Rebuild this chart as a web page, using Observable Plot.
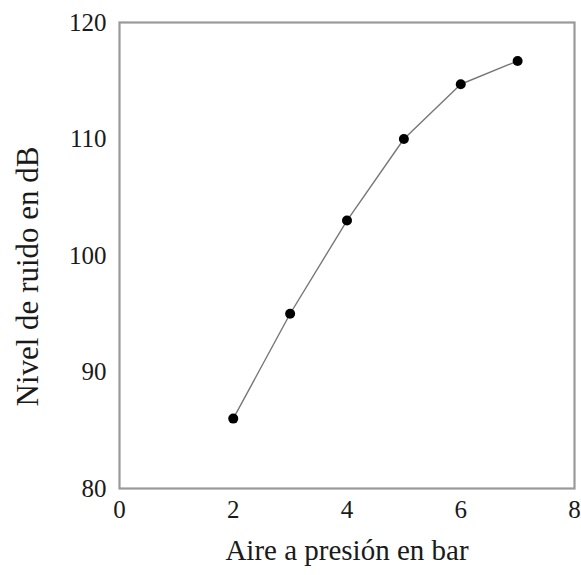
<!DOCTYPE html>
<html>
<head>
<meta charset="utf-8">
<script src="https://cdn.jsdelivr.net/npm/d3@7"></script>
<script src="https://cdn.jsdelivr.net/npm/@observablehq/plot@0.6"></script>
<style>
  html, body { margin: 0; padding: 0; background: #fff; }
</style>
</head>
<body>
<div id="chart"></div>
<script>
const pressure = [2, 3, 4, 5, 6, 7];
const noise = [86, 95, 103, 110, 114.7, 116.7];
const xTicks = [0, 2, 4, 6, 8];
const yTicks = [80, 90, 100, 110, 120];
const xLabel = "Aire a presión en bar";
const yLabel = "Nivel de ruido en dB";

const data = pressure.map((p, i) => ({p, n: noise[i]}));
const serif = "'Liberation Serif', 'Times New Roman', serif";

const chart = Plot.plot({
  width: 581,
  height: 575,
  marginLeft: 119,
  marginRight: 7,
  marginTop: 22,
  marginBottom: 87,
  style: "font-family: 'Liberation Serif', 'Times New Roman', serif; font-size: 25px; color: #1a1a1a; background: #fff;",
  x: {domain: [0, 8]},
  y: {domain: [80, 120]},
  marks: [
    Plot.axisX({ticks: xTicks, tickSize: 0, tickPadding: 12, fontSize: 25, fontFamily: serif, label: null}),
    Plot.axisY({ticks: yTicks, tickSize: 0, tickPadding: 13, fontSize: 25, fontFamily: serif, label: null}),
    Plot.text([xLabel], {frameAnchor: "bottom", dy: 71, fontSize: 29, fontFamily: serif, fill: "#1a1a1a"}),
    Plot.text([yLabel], {frameAnchor: "left", dx: -91, dy: 21, rotate: -90, textAnchor: "middle", fontSize: 31, fontFamily: serif, fill: "#1a1a1a"}),
    Plot.frame({stroke: "#999", strokeWidth: 2.2}),
    Plot.line(data, {x: "p", y: "n", stroke: "#777", strokeWidth: 1.4}),
    Plot.dot(data, {x: "p", y: "n", fill: "#000", r: 5})
  ]
});
document.getElementById("chart").appendChild(chart);
</script>
</body>
</html>
